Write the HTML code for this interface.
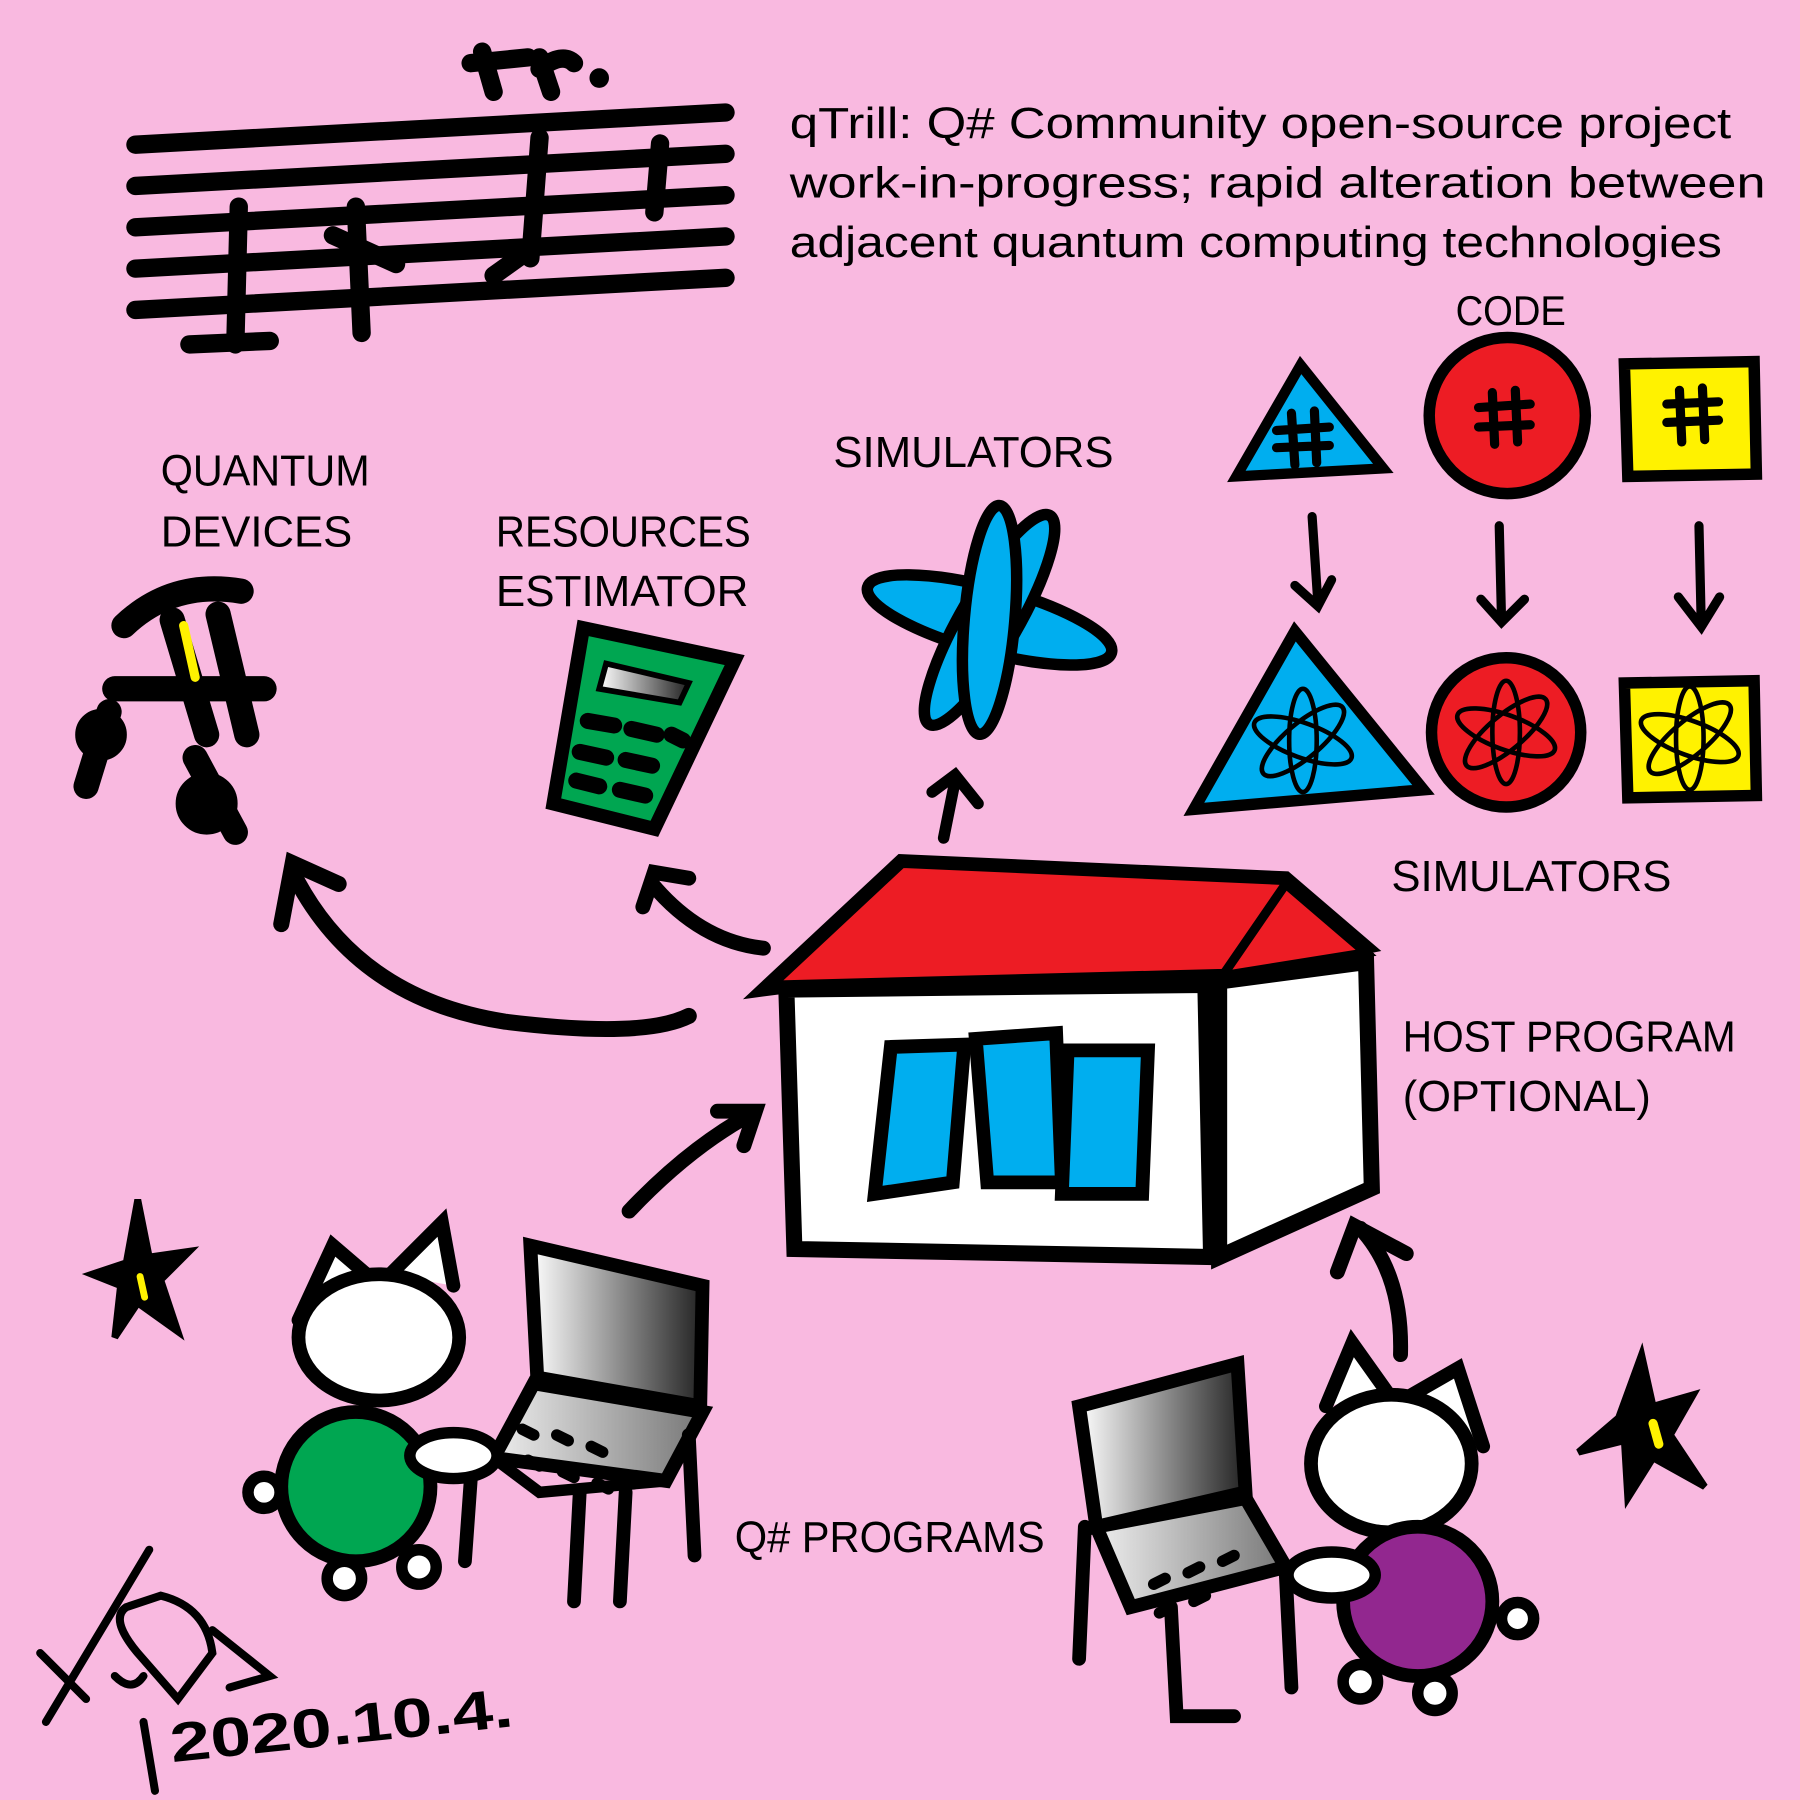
<!DOCTYPE html>
<html><head><meta charset="utf-8"><style>
html,body{margin:0;padding:0;background:#f9b9e0;}
svg{display:block}
text{font-family:"Liberation Sans",sans-serif;fill:#000}
</style></head><body>
<svg width="1800" height="1800" viewBox="0 0 1568 1568" xmlns="http://www.w3.org/2000/svg">
<defs>
<linearGradient id="lg" x1="0" x2="1"><stop offset="0" stop-color="#fff"/><stop offset="1" stop-color="#222"/></linearGradient>
<linearGradient id="lg2" x1="0" x2="1"><stop offset="0" stop-color="#eee"/><stop offset="1" stop-color="#777"/></linearGradient>
</defs>
<rect width="1568" height="1568" fill="#f9b9e0"/>
<g stroke="#000" stroke-linecap="round" fill="none">
<g stroke-width="16">
<path d="M118 126 L632 98"/><path d="M118 162 L632 134"/><path d="M118 198 L632 170"/><path d="M118 234 L632 206"/><path d="M118 270 L632 242"/>
<path d="M208 180 L205 300"/><path d="M165 300 L235 297"/>
<path d="M310 180 L315 290"/><path d="M290 205 L345 230"/>
<path d="M470 120 L462 225"/><path d="M430 240 L465 215"/>
<path d="M575 125 L570 185"/>
<path d="M420 45 L430 80 M410 55 L460 50 M470 50 L480 80 M470 60 Q490 45 500 55"/>
</g>
<circle cx="522" cy="68" r="8" fill="#000"/>
<path d="M1077 415 L1133 318 L1205 408 Z" fill="#00aeef" stroke-width="9"/>
<circle cx="1313" cy="362" r="68" fill="#ed1c24" stroke-width="10"/>
<path d="M1415 317 L1528 315 L1530 413 L1418 415 Z" fill="#fff200" stroke-width="10"/>
<g stroke-width="8"><path d="M1125 360 L1128 405 M1145 358 L1147 403 M1112 375 L1158 372 M1112 390 L1158 388"/>
<path d="M1300 342 L1302 387 M1320 340 L1322 385 M1288 355 L1333 352 M1288 372 L1333 370"/>
<path d="M1463 340 L1465 385 M1483 338 L1485 383 M1452 352 L1497 350 M1452 368 L1497 366"/></g>
<g stroke-width="8"><path d="M1143 450 L1148 525 M1128 510 L1148 528 L1160 505"/>
<path d="M1306 458 L1308 540 M1290 522 L1308 542 L1328 522"/>
<path d="M1480 458 L1482 545 M1462 520 L1482 546 L1498 520"/></g>
<path d="M1040 705 L1128 550 L1240 688 Z" fill="#00aeef" stroke-width="10"/>
<circle cx="1312" cy="638" r="65" fill="#ed1c24" stroke-width="10"/>
<path d="M1415 595 L1528 593 L1530 693 L1418 695 Z" fill="#fff200" stroke-width="10"/>
<g stroke-width="4">
<ellipse cx="1135" cy="645" rx="45" ry="15" transform="rotate(20 1135 645)"/><ellipse cx="1135" cy="645" rx="45" ry="15" transform="rotate(-40 1135 645)"/><ellipse cx="1135" cy="645" rx="45" ry="12" transform="rotate(90 1135 645)"/>
<ellipse cx="1312" cy="638" rx="45" ry="15" transform="rotate(20 1312 638)"/><ellipse cx="1312" cy="638" rx="45" ry="15" transform="rotate(-40 1312 638)"/><ellipse cx="1312" cy="638" rx="45" ry="12" transform="rotate(90 1312 638)"/>
<ellipse cx="1472" cy="643" rx="45" ry="15" transform="rotate(20 1472 643)"/><ellipse cx="1472" cy="643" rx="45" ry="15" transform="rotate(-40 1472 643)"/><ellipse cx="1472" cy="643" rx="45" ry="12" transform="rotate(90 1472 643)"/>
</g>
<g fill="#00aeef" stroke-width="10">
<ellipse cx="862" cy="540" rx="110" ry="28" transform="rotate(15 862 540)"/>
<ellipse cx="862" cy="540" rx="105" ry="25" transform="rotate(-60 862 540)"/>
<ellipse cx="862" cy="540" rx="100" ry="22" transform="rotate(95 862 540)"/>
</g>
<path d="M822 730 L832 680 M812 690 L832 675 L852 700" stroke-width="10"/>
<g stroke-width="22"><path d="M108 545 Q150 505 210 515"/><path d="M150 540 L180 640 M190 535 L215 640"/><path d="M100 600 L230 600"/><path d="M75 685 L95 620"/><path d="M170 660 L205 725"/></g>
<circle cx="88" cy="640" r="22" fill="#000"/><circle cx="180" cy="700" r="22" fill="#000" stroke-width="10"/>
<path d="M160 545 L170 590" stroke="#fff200" stroke-width="8"/>
<path d="M508 547 L640 575 L570 722 L482 700 Z" fill="#00a651" stroke-width="12"/>
<path d="M528 578 L600 595 L592 612 L522 600 Z" fill="url(#lg)" stroke-width="5"/>
<g stroke-width="14"><path d="M512 628 L535 632 M550 635 L572 640 M585 640 L595 645 M505 655 L528 660 M545 662 L568 667 M502 680 L522 685 M540 688 L562 693"/></g>
<path d="M600 885 Q560 905 440 890 Q310 870 255 760" stroke-width="14"/><path d="M245 805 L255 752 L295 770" stroke-width="14"/>
<path d="M665 826 Q610 820 568 770" stroke-width="13"/><path d="M560 790 L570 760 L600 765" stroke-width="13"/>
<path d="M548 1055 Q600 1000 655 970" stroke-width="13"/><path d="M625 968 L658 968 L648 998" stroke-width="13"/>
<path d="M1220 1180 Q1222 1110 1185 1070" stroke-width="13"/><path d="M1165 1108 L1180 1068 L1225 1092" stroke-width="13"/>
<path d="M665 862 L785 750 L1120 765 L1190 825 L1065 850 L680 860 Z" fill="#ed1c24" stroke-width="12"/>
<path d="M1065 850 L1120 770 L1190 830 Z" fill="#ed1c24" stroke-width="8"/>
<path d="M685 862 L1050 858 L1055 1095 L692 1088 Z" fill="#fff" stroke-width="14"/>
<path d="M1062 855 L1190 838 L1195 1035 L1062 1095 Z" fill="#fff" stroke-width="14"/>
<g fill="#00aeef" stroke-width="12"><path d="M776 912 L840 910 L830 1030 L762 1040 Z"/><path d="M850 905 L920 900 L925 1030 L860 1030 Z"/><path d="M930 915 L1000 915 L995 1040 L925 1040 Z"/></g>
<path d="M120 1045 L130 1095 L165 1090 L140 1115 L155 1160 L120 1135 L100 1165 L105 1120 L80 1110 L110 1100 Z" fill="#000" stroke-width="6"/>
<path d="M1430 1180 L1440 1225 L1475 1215 L1455 1250 L1485 1295 L1440 1270 L1418 1305 L1415 1255 L1375 1265 L1410 1235 Z" fill="#000" stroke-width="6"/>
<path d="M122 1112 L126 1130" stroke="#fff200" stroke-width="6"/><path d="M1440 1240 L1445 1258" stroke="#fff200" stroke-width="8"/>
<path d="M260 1150 L290 1085 L325 1115 M340 1110 L385 1065 L395 1120" fill="#fff" stroke-width="12"/>
<ellipse cx="330" cy="1165" rx="70" ry="55" fill="#fff" stroke-width="12"/>
<ellipse cx="310" cy="1295" rx="65" ry="65" fill="#00a651" stroke-width="12"/>
<circle cx="230" cy="1300" r="14" fill="#fff" stroke-width="10"/>
<circle cx="300" cy="1375" r="15" fill="#fff" stroke-width="10"/><circle cx="365" cy="1365" r="15" fill="#fff" stroke-width="10"/>
<path d="M462 1085 L612 1120 L610 1225 L468 1200 Z" fill="url(#lg)" stroke-width="12"/>
<path d="M465 1205 L612 1230 L580 1290 L430 1270 Z" fill="url(#lg2)" stroke-width="12"/>
<path d="M430 1270 L470 1300 L580 1290" stroke-width="10"/>
<path d="M505 1300 L500 1395 M545 1300 L540 1395 M600 1250 L605 1355 M410 1290 L405 1360" stroke-width="12"/>
<ellipse cx="395" cy="1268" rx="38" ry="20" fill="#fff" stroke-width="10"/>
<g stroke-width="10"><path d="M455 1245 L465 1250 M485 1250 L495 1255 M515 1260 L525 1265 M460 1272 L470 1277 M490 1282 L500 1287 M520 1292 L530 1297"/></g>
<path d="M940 1225 L1078 1188 L1085 1300 L955 1330 Z" fill="url(#lg)" stroke-width="12"/>
<path d="M955 1330 L1085 1305 L1120 1365 L985 1400 Z" fill="url(#lg2)" stroke-width="12"/>
<path d="M945 1330 L940 1445 M1020 1400 L1025 1495 L1075 1495 M1120 1370 L1125 1470" stroke-width="12"/>
<g stroke-width="10"><path d="M1005 1380 L1015 1375 M1035 1370 L1045 1365 M1065 1360 L1075 1355 M1010 1405 L1020 1400 M1040 1395 L1050 1390"/></g>
<path d="M1155 1225 L1178 1170 L1210 1215 M1230 1215 L1270 1192 L1292 1260" fill="#fff" stroke-width="12"/>
<ellipse cx="1212" cy="1275" rx="70" ry="60" fill="#fff" stroke-width="12"/>
<ellipse cx="1235" cy="1395" rx="65" ry="65" fill="#92278f" stroke-width="12"/>
<circle cx="1322" cy="1410" r="14" fill="#fff" stroke-width="10"/>
<circle cx="1185" cy="1465" r="15" fill="#fff" stroke-width="10"/><circle cx="1250" cy="1475" r="15" fill="#fff" stroke-width="10"/>
<ellipse cx="1160" cy="1372" rx="38" ry="20" fill="#fff" stroke-width="10"/>
<g stroke-width="7"><path d="M130 1350 L40 1500 M35 1440 L75 1480 M110 1400 L140 1390 Q180 1400 185 1440 L155 1480 L120 1440 Q95 1410 110 1400 M185 1420 L235 1460 L200 1470 M125 1500 L135 1560 M100 1460 Q115 1475 125 1460"/></g>
</g>
<text x="688" y="120" font-size="38" textLength="820" lengthAdjust="spacingAndGlyphs">qTrill:  Q# Community open-source project</text>
<text x="688" y="172" font-size="38" textLength="850" lengthAdjust="spacingAndGlyphs">work-in-progress; rapid alteration between</text>
<text x="688" y="224" font-size="38" textLength="812" lengthAdjust="spacingAndGlyphs">adjacent quantum computing technologies</text>
<text x="1268" y="283" font-size="36" textLength="96" lengthAdjust="spacingAndGlyphs">CODE</text>
<text x="726" y="407" font-size="38" textLength="244" lengthAdjust="spacingAndGlyphs">SIMULATORS</text>
<text x="1212" y="776" font-size="38" textLength="244" lengthAdjust="spacingAndGlyphs">SIMULATORS</text>
<text x="140" y="423" font-size="38" textLength="182" lengthAdjust="spacingAndGlyphs">QUANTUM</text>
<text x="140" y="476" font-size="38">DEVICES</text>
<text x="432" y="476" font-size="38" textLength="222" lengthAdjust="spacingAndGlyphs">RESOURCES</text>
<text x="432" y="528" font-size="38" textLength="220" lengthAdjust="spacingAndGlyphs">ESTIMATOR</text>
<text x="1222" y="916" font-size="38" textLength="290" lengthAdjust="spacingAndGlyphs">HOST PROGRAM</text>
<text x="1222" y="968" font-size="38" textLength="216" lengthAdjust="spacingAndGlyphs">(OPTIONAL)</text>
<text x="640" y="1352" font-size="38" textLength="270" lengthAdjust="spacingAndGlyphs">Q# PROGRAMS</text>
<text x="150" y="1535" font-size="48" font-weight="bold" textLength="300" lengthAdjust="spacingAndGlyphs" transform="rotate(-6 150 1535)">2020.10.4.</text>
</svg>
</body></html>
